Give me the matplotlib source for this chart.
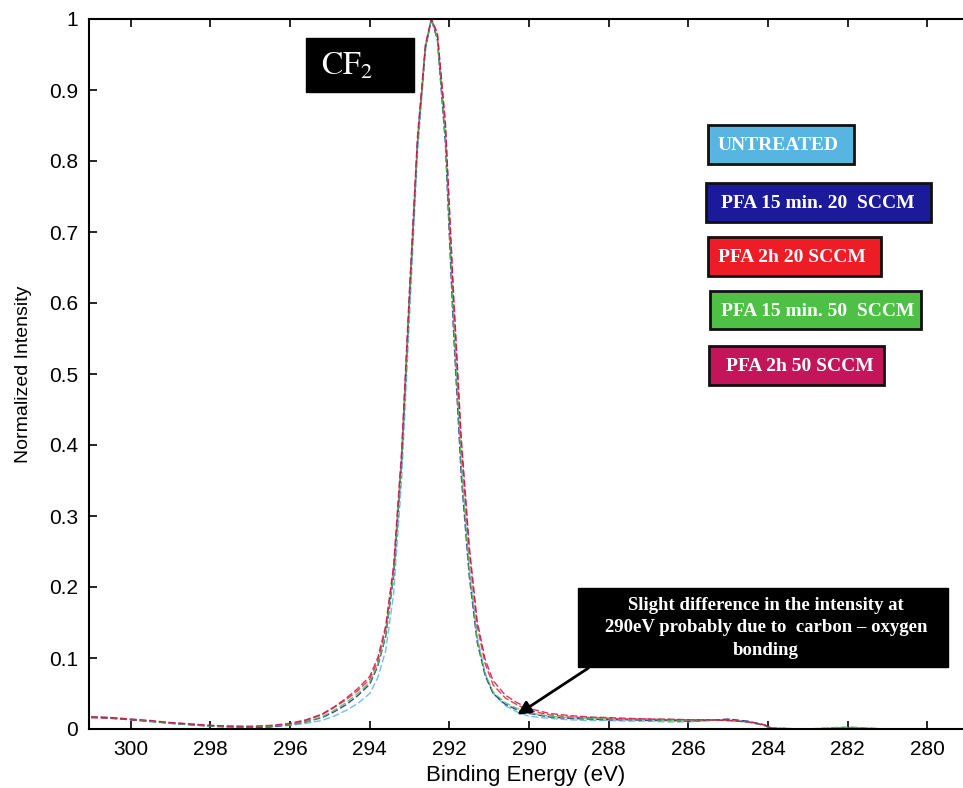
import matplotlib
matplotlib.use('Agg')
import matplotlib.pyplot as plt
from matplotlib.patches import Rectangle

# binding energy grid (eV)
energy = [301.0, 300.5, 300.0, 299.5, 299.0, 298.5, 298.0, 297.5, 297.0, 296.5,
          296.0, 295.6, 295.2, 294.9, 294.6, 294.3, 294.0, 293.8, 293.6, 293.4,
          293.2, 293.0, 292.8, 292.6, 292.45, 292.3, 292.1, 291.9, 291.7, 291.5,
          291.3, 291.1, 290.9, 290.6, 290.3, 290.0, 289.5, 289.0, 288.5, 288.0,
          287.5, 287.0, 286.5, 286.0, 285.5, 285.0, 284.5, 284.1, 283.9, 283.0,
          282.0, 281.0, 280.0, 279.1]

untreated = [0.016, 0.015, 0.013, 0.010, 0.008, 0.006, 0.004, 0.003, 0.003, 0.003,
             0.005, 0.008, 0.012, 0.018, 0.026, 0.036, 0.050, 0.072, 0.110, 0.190,
             0.350, 0.580, 0.810, 0.955, 1.000, 0.975, 0.840, 0.590, 0.380, 0.230,
             0.130, 0.078, 0.050, 0.033, 0.024, 0.018, 0.015, 0.013, 0.012, 0.012,
             0.011, 0.011, 0.010, 0.010, 0.012, 0.013, 0.010, 0.005, 0.000, 0.000,
             0.001, 0.000, 0.000, 0.000]
pfa_15_20 = [0.017, 0.016, 0.013, 0.011, 0.008, 0.006, 0.004, 0.003, 0.002, 0.003,
             0.006, 0.010, 0.016, 0.024, 0.034, 0.047, 0.063, 0.088, 0.130, 0.215,
             0.375, 0.605, 0.825, 0.960, 1.000, 0.970, 0.825, 0.565, 0.355, 0.215,
             0.122, 0.075, 0.050, 0.035, 0.027, 0.022, 0.017, 0.015, 0.014, 0.013,
             0.013, 0.012, 0.012, 0.011, 0.012, 0.014, 0.011, 0.006, 0.001, 0.000,
             0.000, 0.000, 0.000, 0.000]
pfa_2h_20 = [0.016, 0.015, 0.013, 0.011, 0.009, 0.007, 0.005, 0.004, 0.003, 0.004,
             0.007, 0.012, 0.020, 0.030, 0.041, 0.054, 0.070, 0.095, 0.140, 0.225,
             0.385, 0.615, 0.830, 0.962, 1.000, 0.978, 0.850, 0.610, 0.400, 0.250,
             0.145, 0.092, 0.062, 0.044, 0.034, 0.026, 0.020, 0.017, 0.016, 0.015,
             0.014, 0.014, 0.013, 0.013, 0.013, 0.012, 0.010, 0.006, 0.001, 0.000,
             0.002, 0.000, 0.000, 0.000]
pfa_15_50 = [0.017, 0.016, 0.014, 0.011, 0.008, 0.006, 0.004, 0.003, 0.003, 0.004,
             0.006, 0.010, 0.017, 0.026, 0.037, 0.050, 0.066, 0.090, 0.132, 0.218,
             0.378, 0.608, 0.826, 0.960, 1.000, 0.972, 0.832, 0.578, 0.368, 0.222,
             0.126, 0.078, 0.052, 0.037, 0.029, 0.023, 0.018, 0.016, 0.015, 0.014,
             0.013, 0.013, 0.012, 0.012, 0.012, 0.012, 0.010, 0.005, 0.001, 0.000,
             0.003, 0.000, 0.000, 0.000]
pfa_2h_50 = [0.017, 0.016, 0.014, 0.012, 0.009, 0.007, 0.005, 0.004, 0.004, 0.005,
             0.008, 0.013, 0.021, 0.031, 0.043, 0.057, 0.074, 0.100, 0.145, 0.230,
             0.390, 0.620, 0.835, 0.965, 1.000, 0.980, 0.855, 0.620, 0.410, 0.258,
             0.152, 0.098, 0.068, 0.048, 0.037, 0.029, 0.022, 0.019, 0.017, 0.016,
             0.015, 0.014, 0.014, 0.013, 0.013, 0.012, 0.010, 0.006, 0.001, 0.000,
             0.001, 0.000, 0.000, 0.000]

labels = ['UNTREATED', 'PFA 15 min. 20  SCCM', 'PFA 2h 20 SCCM',
          'PFA 15 min. 50  SCCM', 'PFA 2h 50 SCCM']
colors = ['#58b4e0', '#1a1a9a', '#ee1c24', '#4ec046', '#c4145a']
series = [untreated, pfa_15_20, pfa_2h_20, pfa_15_50, pfa_2h_50]

xticks = [300, 298, 296, 294, 292, 290, 288, 286, 284, 282, 280]
yticks = [0, 0.1, 0.2, 0.3, 0.4, 0.5, 0.6, 0.7, 0.8, 0.9, 1]
ytick_labels = ['0', '0.1', '0.2', '0.3', '0.4', '0.5', '0.6', '0.7', '0.8', '0.9', '1']

W, H = 963, 788
plt.rcParams['font.family'] = ['Liberation Sans', 'DejaVu Sans']
plt.rcParams['mathtext.fontset'] = 'stix'

fig = plt.figure(figsize=(W / 100, H / 100), dpi=100, facecolor='white')
ax = fig.add_axes([89 / W, 1 - 729 / H, 1 - 89 / W, (729 - 19) / H])

for vals, c in zip(series, colors):
    ax.plot(energy, vals, color=c, lw=1.0, dashes=(5, 2), alpha=0.85)

ax.set_xlim(301.05, 279.1)
ax.set_ylim(0, 1)
ax.set_xticks(xticks)
ax.set_xticklabels([str(t) for t in xticks])
ax.set_yticks(yticks)
ax.set_yticklabels(ytick_labels)
ax.tick_params(direction='in', length=6, width=1.2, labelsize=15,
               top=True, right=False, pad=8)
for s in ax.spines.values():
    s.set_linewidth(1.5)
ax.spines['right'].set_visible(False)
ax.set_xlabel('Binding Energy (eV)', fontsize=16, labelpad=4)
ax.set_ylabel('Normalized Intensity', fontsize=14, labelpad=12)

# arrow pointing to the 290 eV shoulder
ax.annotate('', xy=(290.35, 0.018), xytext=(288.45, 0.088),
            arrowprops=dict(arrowstyle='-|>', color='black', lw=2,
                            mutation_scale=20))

# overlay in pixel coordinates for the boxes
ov = fig.add_axes([0, 0, 1, 1], facecolor='none')
ov.set_xlim(0, W)
ov.set_ylim(H, 0)
ov.axis('off')

serif = ['Liberation Serif', 'DejaVu Serif']

# CF2 label
ov.add_patch(Rectangle((306, 38), 108, 54, facecolor='black', edgecolor='black'))
ov.text(321, 66, r'$\mathrm{CF_2}$', color='white', fontsize=23,
        ha='left', va='center')

# legend boxes
boxes = [(708, 125, 854, 164, 718), (706, 183, 931, 222, 721),
         (708, 237, 881, 276, 718), (710, 291, 921, 329, 721),
         (709, 346, 884, 385, 726)]
for (x0, y0, x1, y1, tx), lab, c in zip(boxes, labels, colors):
    ov.add_patch(Rectangle((x0, y0), x1 - x0, y1 - y0, facecolor=c,
                           edgecolor='#111111', lw=2))
    ov.text(tx, (y0 + y1) / 2 + 1, lab, color='white', fontsize=14,
            fontweight='bold', family=serif, ha='left', va='center')

# note box
ov.add_patch(Rectangle((578, 588), 370, 79, facecolor='black', edgecolor='black'))
ov.text(766, 628, 'Slight difference in the intensity at\n'
        '290eV probably due to  carbon \u2013 oxygen\nbonding',
        color='white', fontsize=13.5, fontweight='bold', family=serif,
        ha='center', va='center', linespacing=1.4)

fig.savefig('out.png', dpi=100, facecolor='white')
